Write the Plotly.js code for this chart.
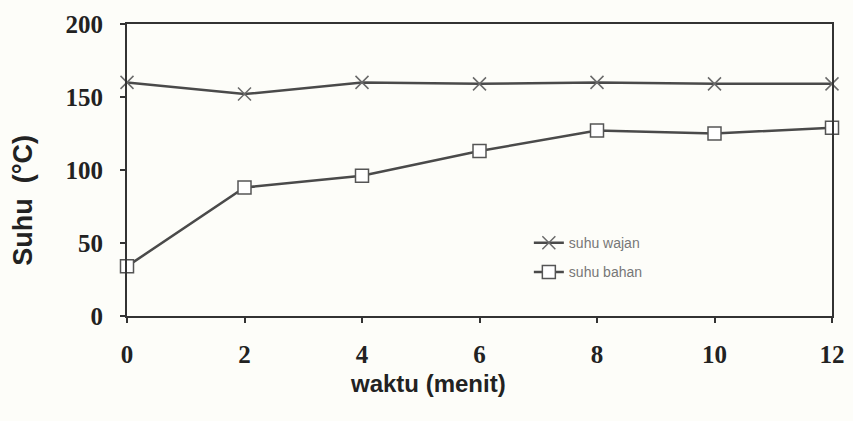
<!DOCTYPE html>
<html>
<head>
<meta charset="utf-8">
<script src="https://cdn.plot.ly/plotly-3.0.1.min.js"></script>
<style>html,body{margin:0;padding:0;background:#fdfdf9;}#chart{width:853px;height:421px;}</style>
</head>
<body>
<div id="chart"></div>
<script>
const waktu = [0, 2, 4, 6, 8, 10, 12];
const suhuWajan = [160, 152, 160, 159, 160, 159, 159];
const suhuBahan = [34, 88, 96, 113, 127, 125, 129];
const xTicks = [0, 2, 4, 6, 8, 10, 12];
const yTicks = [0, 50, 100, 150, 200];
const xTitle = 'waktu (menit)';
const yTitle = 'Suhu&nbsp;&nbsp;(°C)';

const traces = [
  {
    x: waktu, y: suhuWajan, name: 'suhu wajan', type: 'scatter', mode: 'lines+markers',
    legendgroup: 'a',
    line: {color: '#4a4a4a', width: 2.5},
    marker: {symbol: 'x-thin-open', size: 13, color: '#6a6a6a', line: {color: '#6a6a6a', width: 1.5}},
    cliponaxis: false
  },
  {
    x: waktu, y: suhuBahan, name: 'suhu bahan', type: 'scatter', mode: 'lines+markers',
    legendgroup: 'b',
    line: {color: '#4a4a4a', width: 2.5},
    marker: {symbol: 'square', size: 13, color: '#ffffff', line: {color: '#555555', width: 1.5}},
    cliponaxis: false
  }
];

const layout = {
  width: 853, height: 421,
  paper_bgcolor: '#fdfdf9', plot_bgcolor: '#fdfdf9',
  margin: {l: 127, r: 21, t: 24, b: 105},
  showlegend: true,
  legend: {x: 0.57, y: 0.2, xanchor: 'left', yanchor: 'middle', bgcolor: 'rgba(0,0,0,0)',
           font: {family: 'Liberation Sans, Arial', size: 14, color: '#777'}, tracegroupgap: 8},
  xaxis: {
    range: [0, 12], tickvals: xTicks, ticks: 'outside', ticklen: 5, tickcolor: '#333', tickwidth: 2,
    showline: true, linecolor: '#333', linewidth: 2, mirror: true, showgrid: false, zeroline: false,
    ticklabelstandoff: 10,
    tickfont: {family: 'Liberation Serif, Times New Roman', size: 25, color: '#222', weight: 'bold'}
  },
  yaxis: {
    range: [0, 200], tickvals: yTicks, ticks: 'outside', ticklen: 5, tickcolor: '#333', tickwidth: 2,
    showline: true, linecolor: '#333', linewidth: 2, mirror: true, showgrid: false, zeroline: false,
    ticklabelstandoff: 12,
    tickfont: {family: 'Liberation Serif, Times New Roman', size: 25, color: '#222', weight: 'bold'}
  },
  annotations: [
    {text: '<b>' + xTitle + '</b>', xref: 'paper', yref: 'paper', x: 0.427, y: -0.23,
     xanchor: 'center', yanchor: 'middle', showarrow: false,
     font: {family: 'Liberation Sans, Arial', size: 24, color: '#222'}},
    {text: '<b>' + yTitle + '</b>', xref: 'paper', yref: 'paper', x: -0.148, y: 0.397,
     xanchor: 'center', yanchor: 'middle', showarrow: false, textangle: -90,
     font: {family: 'Liberation Sans, Arial', size: 27, color: '#222'}}
  ]
};

Plotly.newPlot('chart', traces, layout, {displayModeBar: false, staticPlot: true});
</script>
</body>
</html>
